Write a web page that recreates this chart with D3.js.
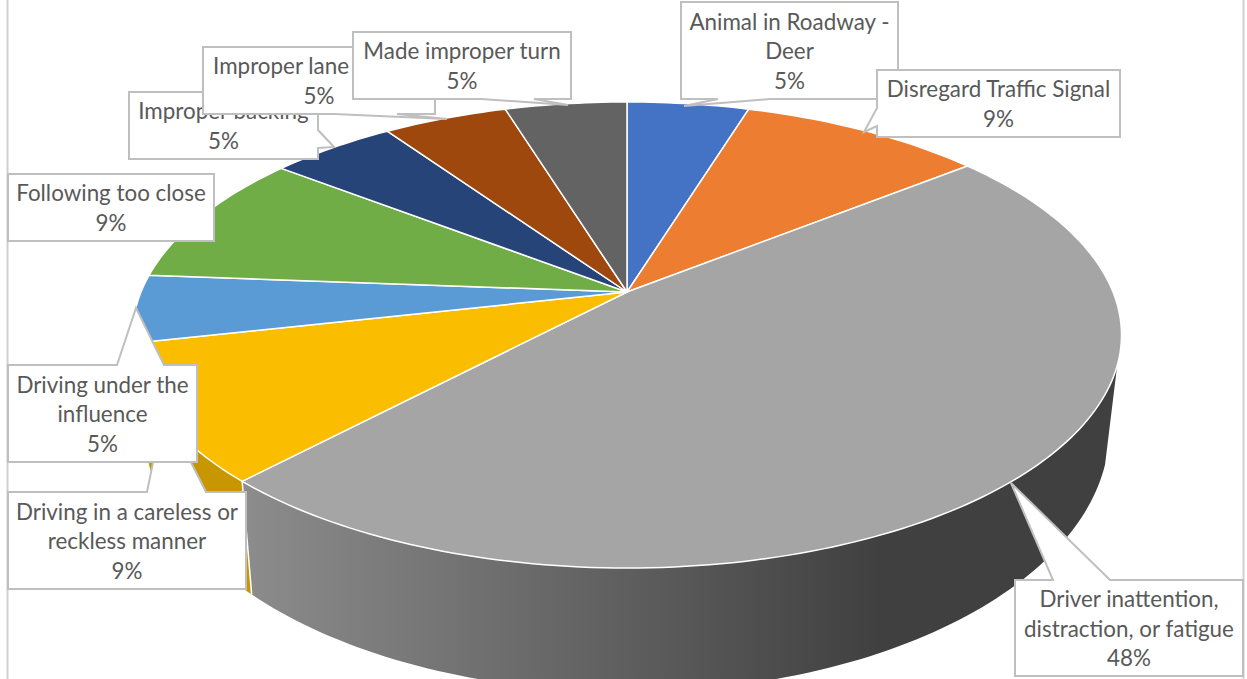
<!DOCTYPE html>
<html>
<head>
<meta charset="utf-8">
<script src="https://cdn.jsdelivr.net/npm/d3@7"></script>
<style>
  html, body { margin: 0; padding: 0; background: #fff; }
  svg { display: block; }
  .label { font-family: Lato, "Open Sans", sans-serif; font-size: 22.4px; fill: #595959; text-anchor: middle; }
</style>
</head>
<body>
<div id="chart"></div>
<script>
// data (share of crashes, percent)
const categories = [
  "Animal in Roadway - Deer", "Disregard Traffic Signal", "Driver inattention, distraction, or fatigue",
  "Driving in a careless or reckless manner", "Driving under the influence", "Following too close",
  "Improper backing", "Improper lane change", "Made improper turn"
];
const shares = [4.75, 9.49, 47.65, 9.45, 4.7, 9.25, 4.9, 4.85, 4.75];
const colors = ["#4472c4", "#ed7d31", "#a5a5a5", "#fbbd00", "#5b9bd5", "#70ad47", "#264478", "#9e480e", "#636363"];

// label text split in lines, same order as categories
const labelLines = [
  ["Animal in Roadway -", "Deer"], ["Disregard Traffic Signal"], ["Driver inattention,", "distraction, or fatigue"],
  ["Driving in a careless or", "reckless manner"], ["Driving under the", "influence"], ["Following too close"],
  ["Improper backing"], ["Improper lane change"], ["Made improper turn"]
];

// callout layout: box [x0, y0, x1, y1], tail [base, tip, base]
const callouts = [
  { i: 0, box: [681, 2, 898, 99], tail: [[770, 99], [684, 106], [718, 99]] },
  { i: 1, box: [877, 70, 1120, 137], tail: [[877, 126], [864, 132], [877, 108]] },
  { i: 2, box: [1015, 580, 1243, 676], tail: [[1053, 580], [1011, 483], [1110, 580]] },
  { i: 3, box: [8, 492, 246, 589], tail: [[147, 492], [164, 409], [206, 492]] },
  { i: 4, box: [8, 365, 197, 462], tail: [[117, 365], [136, 308], [164, 365]] },
  { i: 5, box: [8, 174, 214, 241], tail: null },
  { i: 6, box: [129, 92, 318, 159], tail: [[318, 130], [334, 147], [318, 148]] },
  { i: 7, box: [203, 47, 435, 114], tail: [[397, 114], [447, 119], [334, 114]] },
  { i: 8, box: [353, 32, 571, 99], tail: [[534, 99], [568, 105], [481, 99]] }
];

const width = 1247, height = 679;
const cx = 627;
const tilt = -0.1845; // perspective of the pie, near side is bigger
const topFace = { a: 171.2, b: 292, d: 486 };
const bottomFace = { a: 182.6, b: 381.6, d: 474 };
// the wall is only seen between these two angles
const wallFrom = 108 * Math.PI / 180, wallTo = 252 * Math.PI / 180;

// angle (clockwise from 12 o'clock) to screen, through the perspective of the disc
function project(angle, face) {
  const u = Math.sin(angle), v = -Math.cos(angle);
  const w = 1 + tilt * v;
  return [cx + face.d * u / w, (face.b + face.a * v) / w];
}

function arcPoints(a0, a1, face) {
  const n = Math.max(2, Math.ceil((a1 - a0) / 0.02));
  return d3.range(n + 1).map(k => project(a0 + (a1 - a0) * k / n, face));
}

const pie = d3.pie().sort(null).value(d => d);
const slices = pie(shares);
const line = d3.line();
const pct = d3.format(".0f");

const svg = d3.select("#chart").append("svg")
  .attr("width", width)
  .attr("height", height);

const grad = svg.append("defs").append("linearGradient")
  .attr("id", "wallGrad")
  .attr("gradientUnits", "userSpaceOnUse")
  .attr("x1", 245).attr("x2", 880).attr("y1", 0).attr("y2", 0);
grad.append("stop").attr("offset", 0).attr("stop-color", "#8c8c8c");
grad.append("stop").attr("offset", 1).attr("stop-color", "#404040");

// side wall, front part of the slices only
function wallPath(d) {
  const a0 = Math.max(d.startAngle, wallFrom), a1 = Math.min(d.endAngle, wallTo);
  return line(arcPoints(a0, a1, topFace).concat(arcPoints(a0, a1, bottomFace).reverse())) + "Z";
}

svg.append("g").selectAll("path")
  .data(slices.filter(d => d.endAngle > wallFrom && d.startAngle < wallTo))
  .join("path")
  .attr("d", wallPath)
  .attr("fill", d => d.index === 2 ? "url(#wallGrad)" : d3.color(colors[d.index]).darker(0.63));

// white joint between the two visible walls
const joint = slices[2].endAngle;
svg.append("path")
  .attr("d", line([project(joint, topFace), project(joint, bottomFace)]))
  .attr("stroke", "#fff")
  .attr("stroke-width", 1.5);

// top faces
svg.append("g").selectAll("path")
  .data(slices)
  .join("path")
  .attr("d", d => line([[cx, topFace.b]].concat(arcPoints(d.startAngle, d.endAngle, topFace))) + "Z")
  .attr("fill", d => colors[d.index])
  .attr("stroke", "#fff")
  .attr("stroke-width", 1.5)
  .attr("stroke-linejoin", "round");

// frame of the chart area
svg.selectAll(".frame")
  .data([7.5, 1243.5])
  .join("line")
  .attr("class", "frame")
  .attr("x1", d => d).attr("x2", d => d)
  .attr("y1", 0).attr("y2", height)
  .attr("stroke", "#d0d0d0")
  .attr("stroke-width", 2);

// box outline with the tail folded into the side it sits on
function calloutPath(c) {
  const [x0, y0, x1, y1] = c.box;
  const pts = [[x0, y0], [x1, y0], [x1, y1], [x0, y1]];
  if (c.tail) {
    const b = c.tail[0];
    let side = 0; // top
    if (b[0] === x1) side = 1;
    else if (b[1] === y1) side = 2;
    else if (b[0] === x0) side = 3;
    pts.splice(side + 1, 0, ...c.tail);
  }
  return line(pts) + "Z";
}

const callout = svg.append("g").selectAll("g")
  .data(callouts)
  .join("g");

callout.append("path")
  .attr("d", calloutPath)
  .attr("fill", "#fff")
  .attr("stroke", "#bfbfbf")
  .attr("stroke-width", 2);

callout.each(function (c) {
  const rows = labelLines[c.i].concat(pct(shares[c.i]) + "%");
  const mid = (c.box[0] + c.box[2]) / 2;
  const first = (c.box[1] + c.box[3]) / 2 - (rows.length - 1) * 29.5 / 2 + 8.7;
  d3.select(this).selectAll("text")
    .data(rows)
    .join("text")
    .attr("class", "label")
    .attr("x", mid)
    .attr("y", (d, k) => first + k * 29.5)
    .text(d => d);
});
</script>
</body>
</html>
